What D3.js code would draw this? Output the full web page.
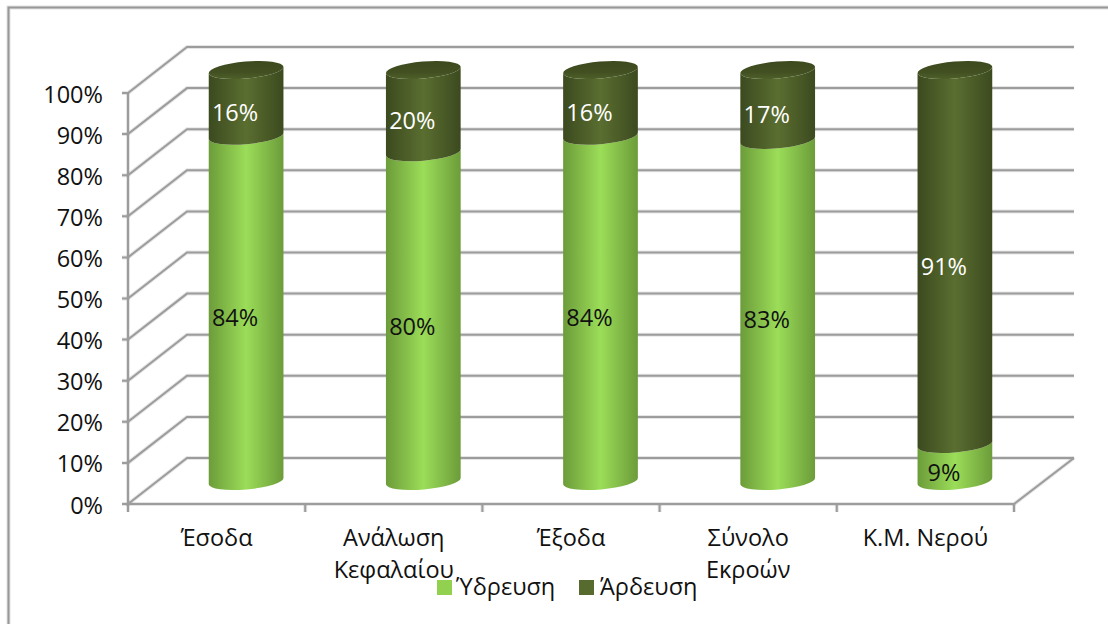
<!DOCTYPE html>
<html><head><meta charset="utf-8">
<script src="https://cdn.jsdelivr.net/npm/d3@7"></script>
<style>html,body{margin:0;background:#fff}svg{display:block}text{font-family:"Open Sans",sans-serif}</style>
</head><body><svg id="c" width="1108" height="624"></svg>
<script>
const categories=["Έσοδα","Ανάλωση Κεφαλαίου","Έξοδα","Σύνολο Εκροών","Κ.Μ. Νερού"];
const categoryLines=[["Έσοδα"],["Ανάλωση","Κεφαλαίου"],["Έξοδα"],["Σύνολο","Εκροών"],["Κ.Μ. Νερού"]];
const water=[84,80,84,83,9];
const irrigation=[16,20,16,17,91];
const seriesNames=["Ύδρευση","Άρδευση"];
const ticks=[0,10,20,30,40,50,60,70,80,90,100];

const svg=d3.select("#c");
const x=d3.scaleBand().domain(categories).range([128,1014]);
const y=d3.scaleLinear().domain([0,100]).range([504,93]);
const dx=59,dy=-46;
const grey="#9c9c9c";
const fs=23.5;
const line=d3.line();

// chart frame: only top and left edges are visible in the crop
const frame=[[8.5,624],[8.5,7.5],[1108,7.5]];
svg.append("path").attr("d",line(frame)).attr("fill","none").attr("stroke","#000").attr("stroke-opacity",.12).attr("stroke-width",4);
svg.append("path").attr("d",line(frame)).attr("fill","none").attr("stroke","#989898").attr("stroke-width",2);

const defs=svg.append("defs");
function grad(id,edge,mid){
  const g=defs.append("linearGradient").attr("id",id);
  [[0,edge],[.5,mid],[1,edge]].forEach(s=>g.append("stop").attr("offset",s[0]).attr("stop-color",s[1]));
}
grad("gLight","#6c9c3a","#9bdd58");
grad("gDark","#3c4a1f","#5a6e30");
const cg=defs.append("linearGradient").attr("id","gCap").attr("x1",0).attr("y1",0).attr("x2",0).attr("y2",1);
[[0,"#3c4a1e"],[.6,"#414f21"],[1,"#4f6029"]].forEach(s=>cg.append("stop").attr("offset",s[0]).attr("stop-color",s[1]));

// grid
const gridPaths=ticks.map(t=>[[x.range()[0]-6,y(t)],[x.range()[0],y(t)],[x.range()[0]+dx,y(t)+dy],[x.range()[1]+dx+1,y(t)+dy]]);
gridPaths.push([[128,y(100)],[128,y(0)],[1014,y(0)],[1014+dx+1,y(0)+dy]]);
[...categories.map(c=>x(c)),x.range()[1]].forEach(v=>gridPaths.push([[v,y(0)],[v,y(0)+8]]));
const gridShadow=svg.append("g").attr("fill","none").attr("stroke","#000").attr("stroke-opacity",.1).attr("stroke-width",4);
const grid=svg.append("g").attr("fill","none").attr("stroke",grey).attr("stroke-width",2);
gridPaths.forEach(p=>{gridShadow.append("path").attr("d",line(p));grid.append("path").attr("d",line(p));});

// axis labels
const yAx=svg.append("g").attr("font-size",fs).attr("fill","#111").attr("text-anchor","end");
ticks.forEach(t=>yAx.append("text").attr("x",103).attr("y",y(t)+9.5).text(t+"%"));
const xAx=svg.append("g").attr("font-size",fs).attr("fill","#111").attr("text-anchor","middle");
categories.forEach((c,i)=>categoryLines[i].forEach((l,j)=>xAx.append("text").attr("x",x(c)+x.bandwidth()/2).attr("y",546+j*32).text(l)));

// cylinders
const rx=37.5,ry=8.5,rot=-5;
const hw=rx*Math.cos(rot*Math.PI/180),s=-rx*Math.sin(rot*Math.PI/180);
const my=v=>y(v)+dy/2;
function seg(cx,v0,v1){
  const yb=my(v0),yt=my(v1),l=cx-hw,r=cx+hw;
  return `M${l},${yt+s}A${rx},${ry} ${rot} 0 0 ${r},${yt-s}L${r},${yb-s}A${rx},${ry} ${rot} 0 1 ${l},${yb+s}Z`;
}
function cap(cx,v){
  const yt=my(v),l=cx-hw,r=cx+hw;
  return `M${l},${yt+s}A${rx},${ry} ${rot} 0 0 ${r},${yt-s}A${rx},${ry} ${rot} 0 0 ${l},${yt+s}Z`;
}
const bars=svg.append("g");
const lab=svg.append("g").attr("font-size",fs).attr("text-anchor","middle");
categories.forEach((c,i)=>{
  const cx=x(c)+x.bandwidth()/2+dx/2;
  const a=water[i],b=irrigation[i];
  bars.append("path").attr("d",seg(cx,0,a)).attr("fill","url(#gLight)");
  bars.append("path").attr("d",seg(cx,a,a+b)).attr("fill","url(#gDark)");
  bars.append("path").attr("d",cap(cx,a+b)).attr("fill","url(#gCap)");
  lab.append("text").attr("x",cx-11).attr("y",my(a/2)+18).attr("fill","#111").text(a+"%");
  lab.append("text").attr("x",cx-11).attr("y",my(a+b/2)+18).attr("fill","#fff").text(b+"%");
});

// legend
const leg=svg.append("g").attr("font-size",fs).attr("fill","#111");
[[437,456,"#92d050"],[579,600,"#566b2d"]].forEach((p,i)=>{
  leg.append("rect").attr("x",p[0]).attr("y",580).attr("width",15).attr("height",15).attr("fill",p[2]);
  leg.append("text").attr("x",p[1]).attr("y",595).text(seriesNames[i]);
});
</script></body></html>
